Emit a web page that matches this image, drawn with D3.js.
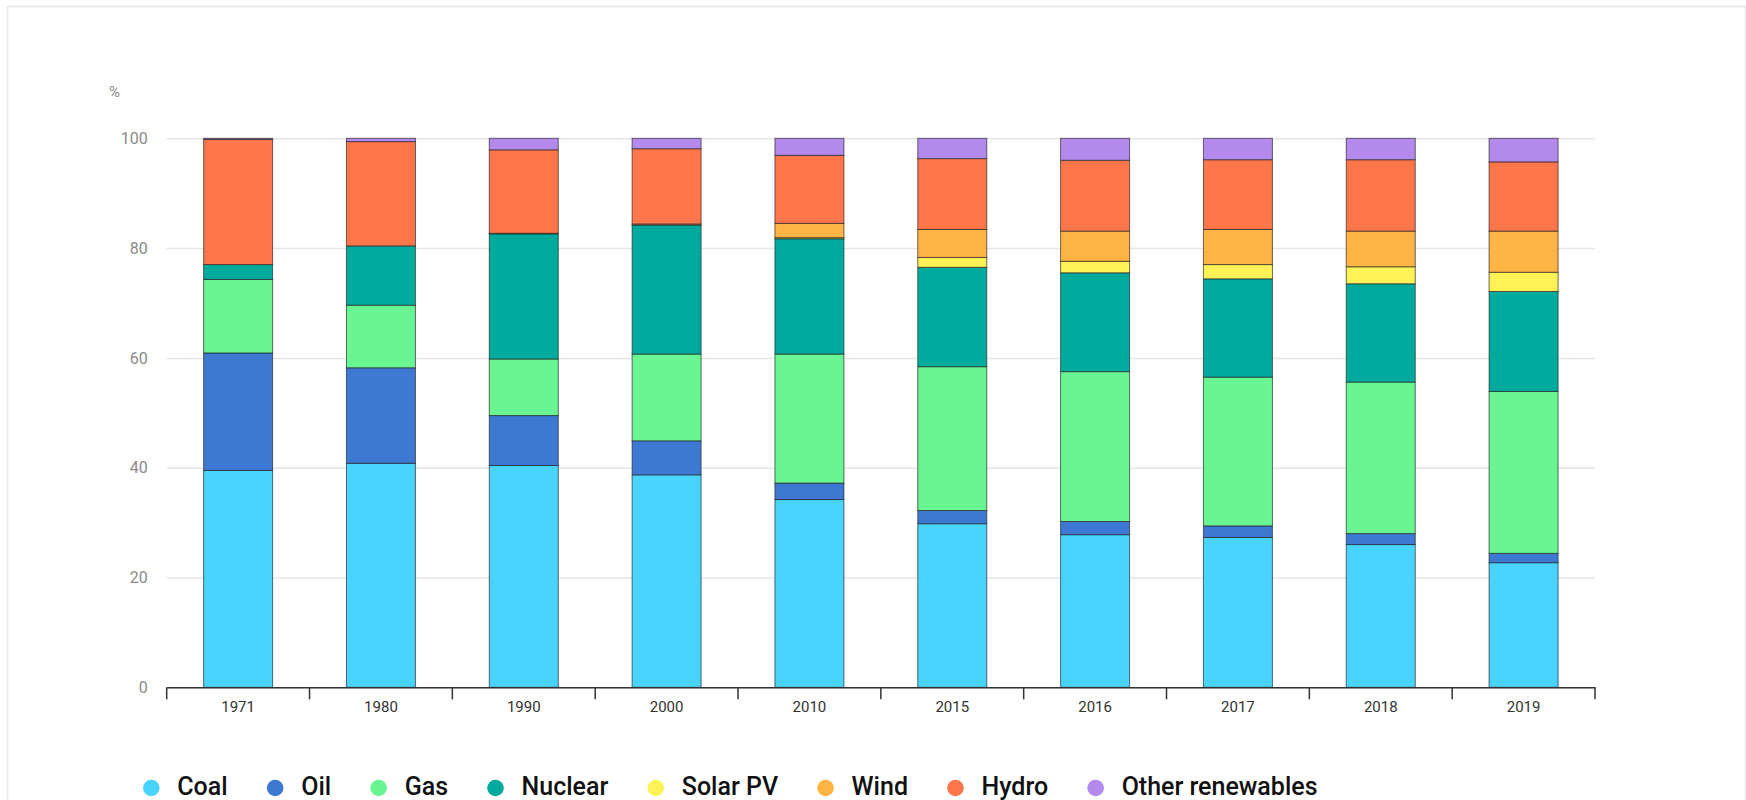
<!DOCTYPE html>
<html>
<head>
<meta charset="utf-8">
<script src="https://cdn.jsdelivr.net/npm/d3@7"></script>
<style>
  html, body { margin: 0; padding: 0; background: #fff; }
  svg { display: block; font-family: Roboto, "Noto Sans", sans-serif; }
</style>
</head>
<body>
<svg id="chart" width="1746" height="800"></svg>
<script>
// Share of world electricity generation by source (%)
const years = ["1971", "1980", "1990", "2000", "2010", "2015", "2016", "2017", "2018", "2019"];

const coal    = [39.5, 40.8, 40.4, 38.7, 34.2, 29.8, 27.8, 27.3, 26.0, 22.7];
const oil     = [21.4, 17.4,  9.1,  6.2,  3.0,  2.4,  2.4,  2.1,  2.0,  1.7];
const gas     = [13.4, 11.4, 10.3, 15.8, 23.5, 26.2, 27.3, 27.1, 27.6, 29.5];
const nuclear = [ 2.7, 10.8, 22.8, 23.5, 21.0, 18.1, 18.0, 17.9, 17.9, 18.2];
const solarPV = [ 0.0,  0.0,  0.0,  0.0,  0.2,  1.8,  2.1,  2.6,  3.1,  3.5];
const wind    = [ 0.0,  0.0,  0.1,  0.2,  2.6,  5.1,  5.5,  6.4,  6.5,  7.5];
const hydro   = [22.8, 19.0, 15.2, 13.7, 12.4, 12.9, 12.9, 12.7, 13.0, 12.6];
const otherRenewables = [0.2, 0.6, 2.1, 1.9, 3.1, 3.7, 4.0, 3.9, 3.9, 4.3];

const seriesNames = ["Coal", "Oil", "Gas", "Nuclear", "Solar PV", "Wind", "Hydro", "Other renewables"];
const seriesValues = [coal, oil, gas, nuclear, solarPV, wind, hydro, otherRenewables];
const seriesColors = ["#49d3ff", "#3d79d3", "#69f592", "#00ab9e", "#fff257", "#ffb443", "#ff764b", "#b389ec"];

const yTicks = [0, 20, 40, 60, 80, 100];

// Rows for d3.stack
const rows = years.map((yr, i) => {
  const r = { year: yr };
  seriesNames.forEach((name, s) => { r[name] = seriesValues[s][i]; });
  return r;
});

const svg = d3.select("#chart");

// Outer frame
svg.append("rect")
  .attr("x", 7.5).attr("y", 6.5)
  .attr("width", 1738).attr("height", 900)
  .attr("fill", "none")
  .attr("stroke", "#e8e8e8")
  .attr("stroke-width", 1.5);

const plotLeft = 166.7, plotRight = 1595, plotTop = 138.3, plotBottom = 687.3;

const x = d3.scaleBand()
  .domain(years)
  .range([plotLeft, plotRight])
  .paddingInner(0.517)
  .paddingOuter(0.2585);

const y = d3.scaleLinear().domain([0, 100]).range([plotBottom, plotTop]);

// Gridlines and y labels
const yAxis = svg.append("g")
  .attr("transform", `translate(${plotLeft},0)`)
  .call(d3.axisLeft(y).tickValues(yTicks).tickSize(-(plotRight - plotLeft)).tickPadding(19));
yAxis.select(".domain").remove();
yAxis.selectAll(".tick line").attr("stroke", "#e6e6e6").attr("stroke-width", 1.5);
yAxis.selectAll(".tick text")
  .attr("fill", "#8a8a8a")
  .style("font-size", "16px")
  .style("font-family", "Roboto, sans-serif");

svg.append("text")
  .attr("x", 109).attr("y", 97)
  .attr("fill", "#8a8a8a")
  .style("font-size", "15px")
  .text("%");

// Stacked bars
const stack = d3.stack().keys(seriesNames);
const layers = stack(rows);

svg.append("g")
  .selectAll("g")
  .data(layers)
  .join("g")
  .attr("fill", (d, i) => seriesColors[i])
  .selectAll("rect")
  .data(d => d)
  .join("rect")
  .attr("x", d => x(d.data.year))
  .attr("width", x.bandwidth())
  .attr("y", d => y(d[1]))
  .attr("height", d => y(d[0]) - y(d[1]))
  .attr("stroke", "#1e1e1e")
  .attr("stroke-opacity", 0.65)
  .attr("stroke-width", 1);

// Bottom axis: labels at band centres, ticks at band boundaries
const xAxis = svg.append("g")
  .attr("transform", `translate(0,${plotBottom})`)
  .call(d3.axisBottom(x).tickSize(0).tickPadding(14));
xAxis.select(".domain").attr("stroke", "#333").attr("stroke-width", 1.5);
xAxis.selectAll(".tick text")
  .attr("fill", "#333")
  .style("font-size", "15px")
  .style("font-family", "Roboto, sans-serif");

const step = x.step();
const boundaries = d3.range(years.length + 1).map(i => plotLeft + i * step);
svg.append("g")
  .selectAll("line")
  .data(boundaries)
  .join("line")
  .attr("x1", d => d).attr("x2", d => d)
  .attr("y1", plotBottom).attr("y2", plotBottom + 12)
  .attr("stroke", "#333")
  .attr("stroke-width", 1.5);

// Legend
const legend = svg.append("g").attr("transform", "translate(0,788)");
let cursor = 151.3;
seriesNames.forEach((name, i) => {
  legend.append("circle")
    .attr("cx", cursor).attr("cy", 0).attr("r", 8.3)
    .attr("fill", seriesColors[i]);
  const t = legend.append("text")
    .attr("x", cursor + 26).attr("y", 7)
    .attr("fill", "#111")
    .style("font-size", "25px")
    .style("font-weight", 500)
    .text(name);
  cursor += 26 + t.node().getComputedTextLength() + 47.5;
});
</script>
</body>
</html>
